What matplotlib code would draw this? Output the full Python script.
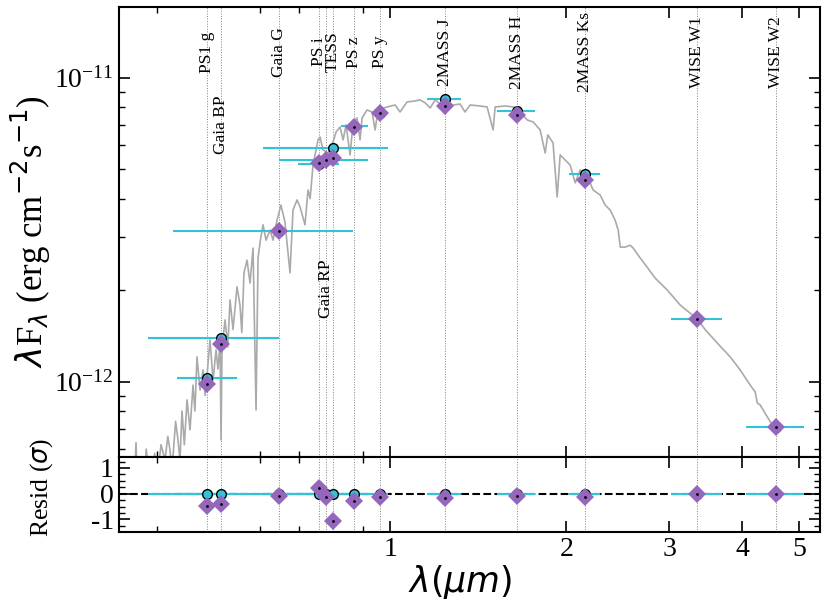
import matplotlib
matplotlib.use('Agg')
import matplotlib.pyplot as plt
import numpy as np
from matplotlib.ticker import LogLocator, AutoMinorLocator, NullFormatter

plt.rcParams['font.family'] = ['Liberation Serif', 'DejaVu Serif']
plt.rcParams['mathtext.fontset'] = 'dejavusans'

# photometry (wavelength in micron, flux in 1e-12 erg/cm2/s)
filters = ['PS1 g', 'Gaia BP', 'Gaia G', 'PS i', 'Gaia RP', 'TESS', 'PS z', 'PS y',
           '2MASS J', '2MASS H', '2MASS Ks', 'WISE W1', 'WISE W2']
wave = [0.486, 0.514, 0.645, 0.755, 0.778, 0.798, 0.868, 0.963,
        1.242, 1.648, 2.154, 3.348, 4.568]
wave_lo = [0.432, 0.386, 0.426, 0.696, 0.646, 0.607, 0.824, 0.935,
           1.157, 1.523, 2.023, 3.02, 4.06]
wave_hi = [0.548, 0.646, 0.865, 0.818, 0.917, 0.992, 0.917, 0.988,
           1.322, 1.77, 2.286, 3.695, 5.10]
flux_obs = [1.029, 1.396, 3.13, 5.19, 5.36, 5.89, 6.93, 7.64,
            8.49, 7.77, 4.82, 1.605, 0.708]
flux_model = [0.983, 1.33, 3.13, 5.22, 5.34, 5.43, 6.90, 7.64,
              8.07, 7.54, 4.61, 1.605, 0.708]
resid = [-0.46, -0.40, -0.10, 0.22, -0.14, -1.05, -0.27, -0.14,
         -0.17, -0.10, -0.14, 0.0, -0.01]
# label heights (1e-12 units)
label_y = [12.15, 6.99, 12.15, 12.15, 2.02, 12.15, 12.15, 12.15,
           12.15, 12.15, 12.15, 12.15, 12.15]

# model spectrum
spec_wave = [0.3650, 0.3680, 0.3700, 0.3800, 0.3830, 0.3900, 0.3960, 0.4000, 0.4060,
             0.4125, 0.4170, 0.4206, 0.4240, 0.4300, 0.4341, 0.4375, 0.4410, 0.4450,
             0.4498, 0.4551, 0.4605, 0.4640, 0.4677, 0.4734, 0.4790, 0.4830, 0.4865,
             0.4923, 0.4983, 0.5042, 0.5080, 0.5122, 0.5142, 0.5162, 0.5224, 0.5280,
             0.5327, 0.5390, 0.5476, 0.5540, 0.5580, 0.5628, 0.5696, 0.5763, 0.5832,
             0.5901, 0.5948, 0.6000, 0.6066, 0.6138, 0.6236, 0.6310, 0.6410, 0.6509,
             0.6612, 0.6745, 0.6826, 0.6934, 0.7016, 0.7155, 0.7240, 0.7300, 0.7385,
             0.7531, 0.7592, 0.7679, 0.7835, 0.7962, 0.8088, 0.8213, 0.8312, 0.8410,
             0.8543, 0.8645, 0.8781, 0.8886, 0.8956, 0.9134, 0.9316, 0.9427, 0.9539,
             0.9883, 1.020, 1.040, 1.069, 1.103, 1.125, 1.148, 1.171, 1.194, 1.218,
             1.242, 1.266, 1.282, 1.317, 1.343, 1.370, 1.425, 1.465, 1.500, 1.512,
             1.573, 1.623, 1.668, 1.715, 1.756, 1.805, 1.841, 1.860, 1.899, 1.930,
             1.953, 1.991, 2.031, 2.072, 2.113, 2.154, 2.197, 2.223, 2.286, 2.331,
             2.377, 2.424, 2.454, 2.474, 2.521, 2.572, 2.603, 2.676, 2.750, 2.838,
             2.975, 3.131, 3.348, 3.455, 3.622, 3.813, 3.965, 4.125, 4.207, 4.241,
             4.290, 4.411, 4.498, 4.587]
spec_flux = [0.45, 0.63, 0.45, 0.40, 0.60, 0.45, 0.58, 0.48, 0.62,
             0.553, 0.66, 0.596, 0.513, 0.74, 0.643, 0.55, 0.80, 0.62,
             0.871, 0.694, 0.974, 0.80, 1.206, 0.938, 1.093, 0.90, 1.04,
             1.372, 1.012, 1.272, 1.10, 1.341, 0.643, 1.30, 1.596, 1.30,
             1.857, 1.483, 2.05, 1.787, 1.45, 2.28, 2.51, 2.11, 2.75,
             0.807, 2.55, 2.90, 3.28, 2.92, 3.15, 2.92, 3.40, 3.81,
             3.35, 2.28, 3.67, 3.96, 3.76, 3.28, 4.27, 4.00, 5.16,
             6.24, 6.38, 5.79, 5.65, 6.01, 6.63, 6.88, 6.24, 6.99,
             5.57, 7.10, 7.37, 6.24, 7.37, 7.83, 7.71, 6.73, 7.83,
             8.01, 8.13, 7.71, 8.32, 8.38, 8.45, 8.26, 7.95, 8.45, 8.19,
             8.45, 8.26, 8.13, 8.19, 7.71, 8.13, 8.07, 8.01, 6.73, 8.01,
             8.07, 8.01, 7.71, 7.26, 7.15, 6.73, 5.65, 6.48, 6.10, 4.05,
             5.57, 5.36, 5.16, 4.51, 4.97, 4.61, 4.51, 4.27, 4.11, 3.81,
             3.67, 3.40, 3.15, 2.77, 2.77, 2.81, 2.75, 2.55, 2.38, 2.19,
             2.003, 1.787, 1.608, 1.483, 1.341, 1.206, 1.093, 0.974, 0.925, 0.851,
             0.838, 0.766, 0.721, 0.694]

scale = 1e-12
cyan = '#33c3d6'
purple = '#9467bd'

wave_a = np.array(wave)
xerr = [wave_a - np.array(wave_lo), np.array(wave_hi) - wave_a]

fig = plt.figure(figsize=(8.3, 6.04), dpi=100)
ax = fig.add_axes([0.1428, 0.2442, 0.8452, 0.7437])
axr = fig.add_axes([0.1428, 0.1192, 0.8452, 0.1235])

for a in (ax, axr):
    for w in wave:
        a.axvline(w, color='gray', ls=':', lw=0.7, zorder=1)

ax.plot(spec_wave, np.array(spec_flux) * scale, color='#aaaaaa', lw=1.2, zorder=2)
ax.errorbar(wave, np.array(flux_obs) * scale, xerr=xerr, fmt='none',
            ecolor=cyan, elinewidth=1.5, capsize=0, zorder=3)
ax.plot(wave, np.array(flux_obs) * scale, 'o', mfc=cyan, mec='k', ms=7, mew=1, zorder=4)
ax.plot(wave, np.array(flux_model) * scale, 'D', color=purple, ms=9, mew=0, zorder=5)
ax.plot(wave, np.array(flux_model) * scale, '.', color='k', ms=2, zorder=6)

for name, w, ly in zip(filters, wave, label_y):
    ax.text(w, ly * scale, name, rotation=90, ha='center', va='center', fontsize=12.5)

ax.set_xscale('log')
ax.set_yscale('log')
ax.set_xlim(0.3435, 5.43)
ax.set_ylim(5.67e-13, 1.704e-11)
ax.set_ylabel(r'$\lambda$F$_\lambda$ (erg cm$^{-2}$s$^{-1}$)', fontsize=25)
ax.yaxis.set_label_coords(-0.094, 0.5)

axr.axhline(0, color='k', ls='--', lw=1.5, zorder=2)
axr.errorbar(wave, np.zeros(len(wave)), xerr=xerr, fmt='none',
             ecolor=cyan, elinewidth=1.5, capsize=0, zorder=3)
axr.plot(wave, np.zeros(len(wave)), 'o', mfc=cyan, mec='k', ms=7, mew=1, zorder=4)
axr.plot(wave, resid, 'D', color=purple, ms=9, mew=0, zorder=5)
axr.plot(wave, resid, '.', color='k', ms=2, zorder=6)
axr.set_xscale('log')
axr.set_xlim(0.3435, 5.43)
axr.set_ylim(-1.49, 1.41)
axr.set_yticks([-1, 0, 1], ['-1', '0', '1'])
axr.yaxis.set_minor_locator(AutoMinorLocator(4))
axr.set_ylabel(r'Resid ($\sigma$)', fontsize=18.5)
axr.yaxis.set_label_coords(-0.091, 0.6)
axr.set_xlabel(r'$\lambda (\mu m)$', fontsize=25)
axr.xaxis.set_label_coords(0.487, -0.41)

for a in (ax, axr):
    a.set_xticks([1, 2, 3, 4, 5], ['1', '2', '3', '4', '5'])
    a.set_xticks([0.4, 0.6, 0.7, 0.9], minor=True)
    a.xaxis.set_minor_formatter(NullFormatter())
    a.tick_params(which='both', direction='in', top=True, right=True, labelsize=20)
    a.tick_params(which='major', length=8, width=1.2)
    a.tick_params(which='minor', length=4, width=1)
    for s in a.spines.values():
        s.set_linewidth(1.5)
ax.tick_params(labelbottom=False)
ax.yaxis.set_minor_locator(LogLocator(subs=np.arange(2, 10)))
ax.yaxis.set_minor_formatter(NullFormatter())

fig.savefig('out.png', dpi=100)
